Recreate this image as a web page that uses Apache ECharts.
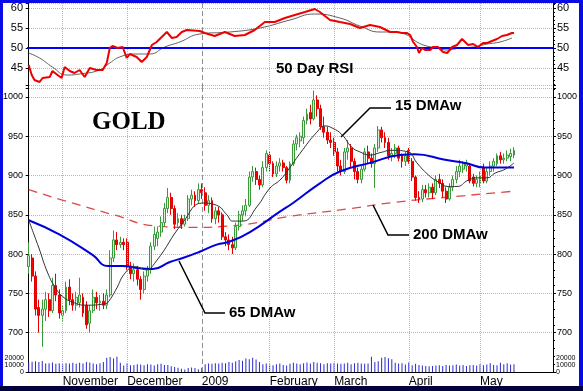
<!DOCTYPE html>
<html><head><meta charset="utf-8">
<script src="https://cdn.jsdelivr.net/npm/echarts@6/dist/echarts.min.js"></script>
<style>html,body{margin:0;padding:0;background:#fff}#c{width:583px;height:391px}</style>
</head><body><div id="c"></div>
<script>
// ---------- DATA ----------
const tradingDays = {
  '2008-10': [20,21,22,23,24,27,28,29,30,31],
  '2008-11': [3,4,5,6,7,10,11,12,13,14,17,18,19,20,21,24,25,26,28],
  '2008-12': [1,2,3,4,5,8,9,10,11,12,15,16,17,18,19,22,23,24,26,29,30,31],
  '2009-01': [2,5,6,7,8,9,12,13,14,15,16,20,21,22,23,26,27,28,29,30],
  '2009-02': [2,3,4,5,6,9,10,11,12,13,17,18,19,20,23,24,25,26,27],
  '2009-03': [2,3,4,5,6,9,10,11,12,13,16,17,18,19,20,23,24,25,26,27,30,31],
  '2009-04': [1,2,3,6,7,8,9,13,14,15,16,17,20,21,22,23,24,27,28,29,30],
  '2009-05': [1,4,5,6,7,8,11,12,13,14,15]
};
const futureDays = ['2009-05-18','2009-05-19','2009-05-20','2009-05-21','2009-05-22','2009-05-26','2009-05-27','2009-05-28','2009-05-29','2009-06-01','2009-06-02'];
const monthTicks = [10, 29, 51, 71, 90, 112, 133];
const monthLabels = ['November','December','2009','February','March','April','May'];

const opens = [784,795,772,732,722,730,742,728,760,748, 722,728,758,742,735,738,745,735,712,728,745,738,740,735,748,795,818,812,815,
 815,785,775,780,768,755,772,780,810,820,828,840,858,872,858,840,845,838,845,870,875,868,
 882,878,862,868,845,855,850,822,818,812,808,835,850,855,862,898,905,895,888,910,
 926,915,902,912,916,910,894,915,940,944,948,970,980,972,996,985,962,955,945,
 942,930,912,905,930,935,918,905,895,908,930,922,915,935,958,948,942,925,928,935,925,918,
 932,918,898,872,870,882,878,885,878,895,890,880,870,885,895,905,908,912,912,898,890,
 890,910,893,905,912,915,925,920,922,924,926];
const closes = [798,772,730,722,730,742,728,760,748,725, 728,758,742,735,745,748,725,710,728,745,738,740,735,748,795,818,812,815,812,
 785,775,780,768,755,772,780,810,825,828,840,858,872,858,838,845,838,845,870,875,868,882,
 878,862,868,845,855,850,822,818,812,808,835,850,855,862,898,905,895,888,910,928,
 915,902,912,916,910,894,915,940,948,950,970,978,972,996,985,962,955,945,942,
 930,912,905,930,935,918,905,895,908,930,922,915,935,958,948,942,925,928,935,922,918,925,
 918,898,872,870,882,878,885,878,895,890,880,870,885,895,905,912,915,916,893,890,895,
 900,893,905,912,918,925,920,922,926,928,932];
const lows = [775,765,722,700,682,715,720,725,740,718, 715,725,735,728,728,732,720,705,700,725,730,728,730,730,745,790,805,808,805,
 780,768,765,760,742,750,765,775,805,810,822,835,852,850,832,835,832,835,842,862,860,865,
 870,855,852,840,838,840,818,810,805,800,805,830,842,848,860,892,888,882,885,905,
 905,898,898,905,905,890,890,912,932,936,940,965,965,970,975,958,948,940,935,
 925,905,900,902,920,910,895,890,890,905,915,910,884,930,942,935,920,918,922,918,910,912,
 915,893,868,865,866,872,872,870,875,884,872,865,868,880,890,898,903,905,890,886,885,
 885,890,890,900,905,912,915,915,918,918,922];
const highs = [815,800,778,742,742,752,750,770,775,755, 735,765,768,750,752,770,750,740,735,755,752,748,750,755,805,830,828,822,820,
 820,790,788,785,772,778,785,815,835,835,848,865,884,878,862,852,850,850,875,882,880,890,
 890,885,875,872,860,860,853,828,825,822,840,855,862,870,905,912,910,900,918,932,
 930,918,918,922,920,912,918,945,952,955,975,985,990,1008,1002,990,975,962,955,
 948,935,920,935,945,940,922,910,912,935,938,928,940,963,962,955,948,935,940,938,928,930,
 935,922,900,880,888,888,890,890,900,902,895,885,890,900,912,920,918,920,915,902,900,
 905,915,910,918,922,928,930,928,932,934,936];
const volumes = [13000,14500,15000,14000,15500,12000,12500,13500,11500,12500,
 11000,12500,12000,13000,11500,13000,12000,14000,13500,12000,11000,12500,14000,20000,21000,19000,21500,13000,9000,
 12500,9500,10000,11000,10500,9500,11000,10500,9000,11000,11500,10000,10000,8000,7000,6000,4500,3500,5500,6500,5500,4000,
 6000,11000,12000,11500,12500,12000,13000,12500,14000,13000,15000,17000,16000,19000,18000,20000,17500,14000,11000,12000,
 10500,9500,11000,12000,10000,9000,11500,13000,12000,11000,12500,13500,12000,14000,13000,12500,11000,12500,12000,
 13000,12000,11500,12000,13000,11000,12500,13000,12000,11500,12000,21500,14000,15000,20000,21000,19500,18000,13000,12000,12500,10500,
 13500,9500,11500,10000,9000,8500,8000,8500,9000,9500,8500,10000,9000,9500,10500,9000,10000,8500,9500,10000,9000,
 11000,9500,10500,12500,10000,9500,13000,11000,12500,10500,11000];

// moving averages: [day index, value]
const ma15 = [[0,843],[2.9,809],[5.6,776],[7.9,757],[10,746],[12.9,739],[16.8,735],[22.7,737],[23.6,740],[25.6,754],[28.6,777],[31.5,784],[34.5,780],[37.4,790],[45.4,840],[51.3,865],[55.4,862],[58.4,850],[60.1,842],[63.1,842],[67.2,860],[71.1,884],[74,894],[76.1,905],[80.8,933],[84.9,955],[87.3,963],[89.6,960],[92.3,952],[95.2,936],[97.6,930],[100.6,926],[103.5,929],[107,932],[111.8,930],[114.4,916],[117.7,901],[120.6,892],[123.6,886],[126.2,886],[129.5,894],[132.4,897],[135.1,897],[137.4,903],[140.4,908],[143,916]];
const ma65 = [[0,843],[9,825],[18.8,799],[23.3,785],[27.7,785],[32.4,782],[36.5,781],[41.6,790],[45.4,795],[50.4,803],[55.4,812],[59.3,816],[65.2,828],[74,854],[77.9,865],[85.8,890],[91.7,905],[100.6,916],[109.4,926],[113.8,927],[122.7,920],[128.6,916],[134.5,910],[143,910]];
const ma200 = [[0,882],[12,866],[25,850],[37,836],[47,834],[60,836],[77,848],[95,858],[108,866],[125,873],[143,880]];
const rsi = [[0,45.75],[0.9,43.25],[1.7,42],[3.2,41.5],[4.1,42.5],[6.2,42.75],[7,44.25],[8.5,43.25],[9.7,42.5],[10.6,45.25],[12.1,44.25],[13.5,43.75],[15,44.5],[16.5,42.75],[18,45],[20,44.5],[21.8,44.5],[23,46.25],[23.9,50],[24.7,50.5],[26.2,50],[27.7,50.25],[28.9,47.5],[29.8,48.5],[31.8,47.75],[33.3,46.5],[34.8,47.75],[36.3,50.75],[37.7,51.5],[39.2,52.75],[40.7,54],[42.2,52.5],[43.6,52.75],[45.1,54],[46.6,54.5],[50.4,54.25],[51.9,53.75],[54.8,53],[57.8,54],[60.7,53],[63.7,53.25],[66.6,54.5],[69.6,56.5],[72.5,56.5],[75.5,57.5],[78.4,58.25],[81.4,59],[84.3,59.75],[85.8,59],[88.8,57],[91.7,56.5],[94.7,56],[97.6,55],[100.6,55.75],[103.5,55.25],[106.5,54],[108.5,54],[110,53.75],[111.5,53.75],[112.4,53.25],[113.3,51.5],[114.4,50.25],[115,48.75],[115.9,50],[116.8,49.5],[118.3,49.5],[119.1,50.25],[120.6,50.25],[122.1,49],[123.3,48.75],[124.8,50.25],[126.2,50.75],[127.7,52.25],[128.6,51.5],[129.5,50.75],[131,51],[132.4,50.25],[133.9,51.25],[135.1,51.25],[136.5,51.75],[138,52.25],[139.5,53],[140.9,53.25],[142.4,53.75],[143,53.75]];
const rsiMa = [[0,48.75],[3.2,47.5],[7,45.25],[11.2,43.25],[15,43.5],[20.9,44.5],[23.9,46.25],[26.8,47.75],[31.2,48.5],[35.7,48.5],[40.1,50.25],[44.5,51.5],[50.4,53.5],[59.3,54],[68.1,55],[77,57],[84.3,58.5],[91.7,57.5],[97.6,55.5],[103.5,54],[107.3,54],[111.5,53.25],[114.4,51.5],[117.3,50.5],[120.3,50],[123.3,49.5],[127.1,50],[131,50.25],[135.1,51],[138.9,51.5],[142.4,52.5]];

// ---------- BUILD ----------
const categories = [];
Object.keys(tradingDays).forEach(m => tradingDays[m].forEach(d => categories.push(m + '-' + String(d).padStart(2,'0'))));
futureDays.forEach(d => categories.push(d));
const candles = opens.map((o,i) => [o, closes[i], lows[i], highs[i]]);

const FONT = 'Liberation Sans, Arial, sans-serif';
const gridStyle = {type:'dotted', color:'#b8b8b8', width:1};
function vLines(){
  return monthTicks.map(i => ({xAxis: i, lineStyle: i===51 ? {type:[5,3], color:'#909090', width:1} : gridStyle}));
}
const ML = {silent:true, symbol:'none', label:{show:false}};

const chart = echarts.init(document.getElementById('c'), null, {renderer:'canvas'});
const priceFmt = v => (v % 50 === 0 && v >= 700 && v <= 1000) ? String(v) : '';
const rsiFmt = v => (v % 5 === 0 && v >= 45 && v <= 60) ? String(v) : '';
const volFmt = v => (v === 0 || v === 10000 || v === 20000) ? String(v) : '';

chart.setOption({
  animation:false,
  backgroundColor:'#ffffff',
  textStyle:{fontFamily:FONT},
  grid:[
    {left:27, right:30, top:3, height:85},
    {left:27, right:30, top:85, height:287},
    {left:27, right:30, top:350, height:22}
  ],
  xAxis:[
    {gridIndex:0, type:'value', min:-0.5, max:154.5, show:false, position:'bottom'},
    {gridIndex:1, type:'category', data:categories, boundaryGap:true, position:'bottom',
      axisLine:{lineStyle:{color:'#000', width:1}},
      axisTick:{alignWithLabel:true, interval:(i)=>monthTicks.includes(i), length:13, lineStyle:{color:'#000'}},
      axisLabel:{interval:(i)=>monthTicks.includes(i), formatter:(v,i)=>{const k=monthTicks.indexOf(i);return k>=0?monthLabels[k]:'';},
        align:'left', margin:4, fontSize:12, color:'#000', fontFamily:FONT},
      splitLine:{show:false}},
    {gridIndex:1, type:'value', min:-0.5, max:154.5, show:false, position:'bottom'},
    {gridIndex:1, type:'category', data:categories, boundaryGap:true, position:'bottom',
      axisLine:{show:false}, axisLabel:{show:false}, splitLine:{show:false},
      axisTick:{interval:(i)=>i%4===2, length:5, lineStyle:{color:'#000'}}},
    {gridIndex:2, type:'category', data:categories, boundaryGap:true, show:false, position:'bottom'}
  ],
  yAxis:[
    {gridIndex:0, type:'value', min:40, max:61.25, interval:5, position:'left',
      axisLine:{show:true, lineStyle:{color:'#000'}}, axisTick:{show:true, length:3, lineStyle:{color:'#000'}},
      axisLabel:{formatter:rsiFmt, fontSize:11, color:'#000', margin:4}, splitLine:{show:true, lineStyle:gridStyle}},
    {gridIndex:0, type:'value', min:40, max:61.25, interval:5, position:'right',
      axisLine:{show:true, lineStyle:{color:'#000'}}, axisTick:{show:true, length:3, lineStyle:{color:'#000'}},
      minorTick:{show:true, splitNumber:5, length:2, lineStyle:{color:'#000'}},
      axisLabel:{formatter:rsiFmt, fontSize:11, color:'#000', margin:4}, splitLine:{show:false}},
    {gridIndex:1, type:'value', min:650, max:1015.1, interval:50, position:'left',
      axisLine:{show:true, lineStyle:{color:'#000'}}, axisTick:{show:true, length:3, lineStyle:{color:'#000'}},
      axisLabel:{formatter:priceFmt, fontSize:9, color:'#000', margin:4}, splitLine:{show:true, lineStyle:gridStyle}},
    {gridIndex:1, type:'value', min:650, max:1015.1, interval:50, position:'right',
      axisLine:{show:true, lineStyle:{color:'#000'}}, axisTick:{show:true, length:3, lineStyle:{color:'#000'}},
      minorTick:{show:true, splitNumber:5, length:2, lineStyle:{color:'#000'}},
      axisLabel:{formatter:priceFmt, fontSize:9, color:'#000', margin:4}, splitLine:{show:false}},
    {gridIndex:2, type:'value', min:0, max:31000, interval:10000, position:'left',
      axisLine:{show:false}, axisTick:{show:false},
      axisLabel:{formatter:volFmt, fontSize:7, color:'#000', margin:3}, splitLine:{show:false}},
    {gridIndex:2, type:'value', min:0, max:31000, interval:10000, position:'right',
      axisLine:{show:false}, axisTick:{show:false},
      axisLabel:{formatter:volFmt, fontSize:7, color:'#000', margin:3}, splitLine:{show:false}}
  ],
  series:[
    {type:'line', xAxisIndex:0, yAxisIndex:0, data:[], markLine:Object.assign({}, ML, {data: vLines().concat([{yAxis:50, lineStyle:{type:'solid', color:'#0000ff', width:2}}])})},
    {type:'line', xAxisIndex:2, yAxisIndex:2, data:[], markLine:Object.assign({}, ML, {data: vLines()})},
    {type:'line', name:'RSI MA', xAxisIndex:0, yAxisIndex:0, data:rsiMa, smooth:true, symbol:'none', lineStyle:{color:'#606060', width:1}, z:4},
    {type:'line', name:'RSI', xAxisIndex:0, yAxisIndex:0, data:rsi, symbol:'none', lineStyle:{color:'#ee0000', width:2}, z:5},
    {type:'line', name:'200 DMAw', xAxisIndex:2, yAxisIndex:2, data:ma200, smooth:true, symbol:'none', lineStyle:{color:'#e04848', width:1.3, type:[9,6]}, z:2},
    {type:'candlestick', xAxisIndex:1, yAxisIndex:2, data:candles, barWidth:2.4,
      itemStyle:{color:'#d8f2d8', color0:'#ff0000', borderColor:'#3a9a3a', borderColor0:'#e00000', borderWidth:1}, z:3},
    {type:'line', name:'65 DMAw', xAxisIndex:2, yAxisIndex:2, data:ma65, smooth:true, symbol:'none', lineStyle:{color:'#0000dd', width:2}, z:5},
    {type:'line', name:'15 DMAw', xAxisIndex:2, yAxisIndex:2, data:ma15, smooth:true, symbol:'none', lineStyle:{color:'#303030', width:1}, z:6},
    {type:'bar', xAxisIndex:4, yAxisIndex:4, data:volumes, barWidth:1, itemStyle:{color:'#2a2ad0'}, z:3}
  ],
  graphic:[
    {type:'rect', shape:{x:0,y:0,width:583,height:3}, style:{fill:'#0a0ae6'}, z:100},
    {type:'rect', shape:{x:0,y:0,width:3,height:391}, style:{fill:'#0a0ae6'}, z:100},
    {type:'rect', shape:{x:579,y:0,width:4,height:391}, style:{fill:'#0a0ae6'}, z:100},
    {type:'rect', shape:{x:0,y:386,width:583,height:5}, style:{fill:'#00003a'}, z:100},
    {type:'text', left:92, top:110, style:{text:'GOLD', font:'bold 25px "Liberation Serif", "Times New Roman", serif', fill:'#000'}, z:50},
    {type:'text', left:276, top:61, style:{text:'50 Day RSI', font:'bold 15px "Liberation Sans", Arial, sans-serif', fill:'#000'}, z:50},
    {type:'polyline', shape:{points:[[341,137],[370,108],[391,108]]}, style:{stroke:'#000', lineWidth:1.5, fill:null}, z:50},
    {type:'text', left:395, top:98, style:{text:'15 DMAw', font:'bold 15px "Liberation Sans", Arial, sans-serif', fill:'#000'}, z:50},
    {type:'polyline', shape:{points:[[373,205],[388,235],[409,235]]}, style:{stroke:'#000', lineWidth:1.5, fill:null}, z:50},
    {type:'text', left:413, top:227, style:{text:'200 DMAw', font:'bold 15px "Liberation Sans", Arial, sans-serif', fill:'#000'}, z:50},
    {type:'polyline', shape:{points:[[179,261],[205,313],[225,313]]}, style:{stroke:'#000', lineWidth:1.5, fill:null}, z:50},
    {type:'text', left:229, top:305, style:{text:'65 DMAw', font:'bold 15px "Liberation Sans", Arial, sans-serif', fill:'#000'}, z:50}
  ]
});
</script></body></html>
